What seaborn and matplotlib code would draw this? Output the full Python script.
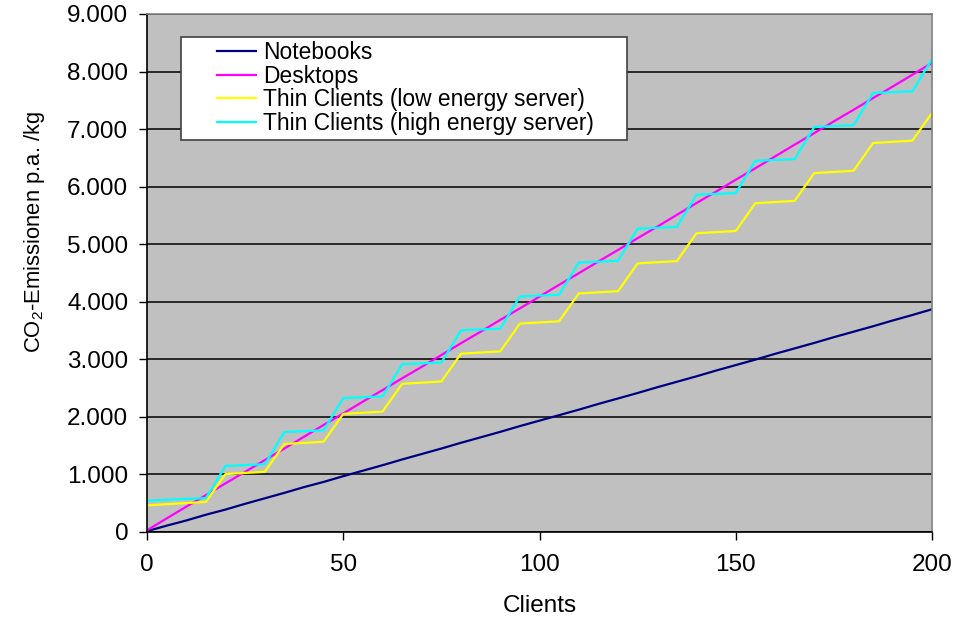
import matplotlib
matplotlib.use("Agg")
import matplotlib.pyplot as plt
from matplotlib.patches import Rectangle
from matplotlib.ticker import FuncFormatter, MultipleLocator
import pandas as pd
import seaborn as sns

clients = [0, 5, 10, 15, 20, 25, 30, 35, 40, 45, 50, 55, 60, 65, 70, 75, 80, 85, 90, 95,
           100, 105, 110, 115, 120, 125, 130, 135, 140, 145, 150, 155, 160, 165, 170, 175,
           180, 185, 190, 195, 200]

notebooks = [15, 110, 200, 300, 390, 490, 585, 680, 780, 870, 970, 1065, 1160, 1260, 1355,
             1450, 1550, 1645, 1740, 1840, 1935, 2030, 2125, 2225, 2320, 2415, 2515, 2610,
             2705, 2805, 2900, 2995, 3095, 3190, 3285, 3385, 3480, 3575, 3675, 3770, 3870]

desktops = [30, 235, 440, 640, 845, 1045, 1250, 1450, 1655, 1860, 2060, 2265, 2465, 2670,
            2870, 3075, 3280, 3480, 3685, 3885, 4090, 4295, 4495, 4700, 4900, 5105, 5305,
            5510, 5715, 5915, 6120, 6320, 6525, 6730, 6930, 7135, 7335, 7540, 7740, 7945, 8150]

thin_low = [463, 483, 503, 523, 1006, 1026, 1046, 1529, 1549, 1569, 2052, 2072, 2092, 2575,
            2595, 2615, 3098, 3118, 3138, 3621, 3641, 3661, 4144, 4164, 4184, 4667, 4687,
            4707, 5190, 5210, 5230, 5713, 5733, 5753, 6236, 6256, 6276, 6759, 6779, 6799, 7282]

thin_high = [544, 559, 574, 589, 1148, 1163, 1178, 1737, 1752, 1767, 2326, 2341, 2356, 2915,
             2930, 2945, 3504, 3519, 3534, 4093, 4108, 4123, 4682, 4697, 4712, 5271, 5286,
             5301, 5860, 5875, 5890, 6449, 6464, 6479, 7038, 7053, 7068, 7627, 7642, 7657, 8216]

series_names = ["Notebooks", "Desktops", "Thin Clients (low energy server)",
                "Thin Clients (high energy server)"]
series_values = [notebooks, desktops, thin_low, thin_high]
series_colors = ["#000080", "#FF00FF", "#FFFF00", "#00FFFF"]

x_ticks = [0, 50, 100, 150, 200]
x_label = "Clients"
y_label = "CO$_\\mathregular{2}$-Emissionen p.a. /kg"

plt.rcParams["font.family"] = ["Liberation Sans", "DejaVu Sans"]
plt.rcParams["mathtext.fontset"] = "custom"
plt.rcParams["mathtext.rm"] = "Liberation Sans"

frames = []
for name, vals in zip(series_names, series_values):
    frames.append(pd.DataFrame({"Clients": clients, "value": vals, "series": name}))
df = pd.concat(frames, ignore_index=True)

fig = plt.figure(figsize=(9.69, 6.19), dpi=100)
fig.patch.set_facecolor("white")
ax = fig.add_axes([147 / 969, 1 - 532 / 619, 785 / 969, 518 / 619])
ax.set_facecolor("#C0C0C0")

sns.lineplot(data=df, x="Clients", y="value", hue="series", hue_order=series_names,
             palette=dict(zip(series_names, series_colors)), linewidth=1.6,
             estimator=None, sort=False, legend=False, ax=ax)

ax.set_xlim(0, 200)
ax.set_ylim(0, 9000)
ax.set_xticks(x_ticks)
ax.yaxis.set_major_locator(MultipleLocator(1000))
ax.yaxis.set_major_formatter(FuncFormatter(lambda v, p: f"{int(v):,}".replace(",", ".")))

ax.yaxis.grid(True, color="black", linewidth=1.1)
ax.xaxis.grid(False)
ax.set_axisbelow(True)

for side in ["left", "bottom"]:
    ax.spines[side].set_color("black")
    ax.spines[side].set_linewidth(1.2)
for side in ["top", "right"]:
    ax.spines[side].set_color("#808080")
    ax.spines[side].set_linewidth(1.2)

ax.tick_params(axis="both", direction="out", length=6, width=1, color="black",
               labelsize=17.5, labelcolor="black")
ax.tick_params(axis="x", pad=10)
ax.tick_params(axis="y", pad=7.5)

ax.set_xlabel(x_label, fontsize=17.5)
ax.set_ylabel(y_label, fontsize=15.8)
ax.xaxis.set_label_coords(0.5, -0.122)
ax.yaxis.set_label_coords(-0.128, 0.579)

# legend box
ax.add_patch(Rectangle((0.0433, 0.757), 0.568, 0.1986, transform=ax.transAxes,
                       facecolor="white", edgecolor="#404040", linewidth=1.2, zorder=4))
handles = ax.lines[:4]
leg = ax.legend(handles, series_names, loc="upper left", bbox_to_anchor=(0.0892, 0.948),
                frameon=False, borderpad=0, borderaxespad=0, labelspacing=0.03,
                handlelength=1.72, handletextpad=0.3, fontsize=16.4)
leg.set_zorder(5)

fig.savefig("out.png", dpi=100)
